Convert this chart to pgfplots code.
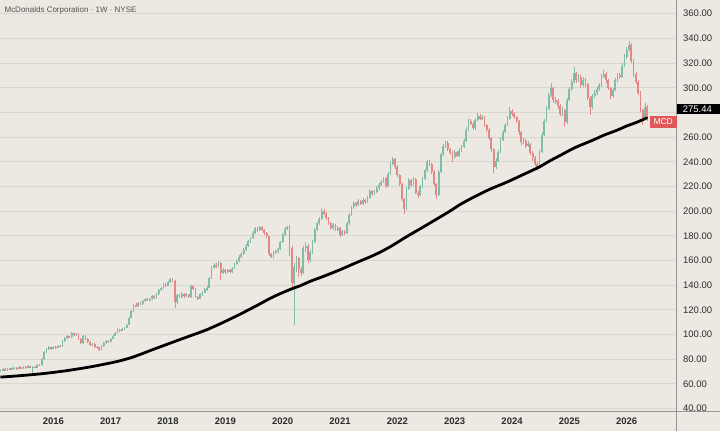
\documentclass[border=0pt]{standalone}
\usepackage{fontspec}
\setmainfont{Liberation Sans}
\usepackage{pgfplots}
\usepackage{pgfplotstable}
\pgfplotsset{compat=1.18}
\definecolor{bg}{RGB}{235,233,225}
\definecolor{gridc}{RGB}{218,215,207}
\definecolor{upc}{RGB}{128,188,168}
\definecolor{dnc}{RGB}{230,135,135}
\definecolor{axc}{RGB}{150,150,150}
\definecolor{lblc}{RGB}{45,45,45}
\definecolor{ttlc}{RGB}{80,80,80}
\definecolor{mcdred}{RGB}{222,88,90}

\pgfplotstableread{
t o h l c
2015.08 70.5 71.8 69.8 71.0
2015.12 71.0 72.8 70.4 72.0
2015.16 72.0 72.6 70.6 71.2
2015.20 71.2 73.2 70.8 72.5
2015.24 72.5 73.0 71.0 71.8
2015.28 71.8 73.4 71.2 72.6
2015.32 72.6 73.9 72.0 73.0
2015.36 73.0 73.6 71.5 72.2
2015.40 72.2 74.2 71.8 73.4
2015.44 73.4 74.0 72.0 72.8
2015.48 72.8 74.5 72.2 73.6
2015.52 73.6 74.3 72.3 73.0
2015.56 73.0 75.0 72.6 74.2
2015.60 74.2 74.8 72.8 73.5
2015.64 73.5 74.6 66.0 74.0
2015.68 74.0 74.8 72.5 73.2
2015.72 73.2 76.2 72.8 75.5
2015.76 75.5 76.4 74.2 75.0
2015.80 75.0 80.8 74.6 80.0
2015.84 80.0 86.4 79.5 85.5
2015.88 85.5 88.9 85.0 88.0
2015.92 88.0 90.3 87.2 89.5
2015.96 89.5 90.2 87.8 88.6
2016.00 88.6 91.0 88.0 90.2
2016.04 90.2 91.0 88.6 89.4
2016.08 89.4 91.8 88.8 91.0
2016.12 91.0 91.7 89.5 90.3
2016.16 90.3 95.3 90.0 94.5
2016.20 94.5 97.8 94.0 97.0
2016.24 97.0 99.4 96.3 98.5
2016.28 98.5 99.2 96.8 97.6
2016.32 97.6 101.9 97.0 101.0
2016.36 101.0 101.6 99.0 99.8
2016.40 99.8 101.4 99.0 100.5
2016.44 100.5 101.0 95.8 96.5
2016.48 96.5 97.0 92.2 93.0
2016.52 93.0 99.8 92.6 99.0
2016.56 99.0 99.5 95.2 96.0
2016.60 96.0 96.8 93.2 94.0
2016.64 94.0 94.6 90.8 91.5
2016.68 91.5 93.2 90.8 92.4
2016.72 92.4 92.9 89.3 90.0
2016.76 90.0 90.8 88.7 89.5
2016.80 89.5 90.0 87.0 87.8
2016.84 87.8 91.2 87.3 90.5
2016.88 90.5 93.8 90.0 93.0
2016.92 93.0 95.8 92.5 95.0
2016.96 95.0 95.7 93.5 94.2
2017.00 94.2 97.3 93.8 96.5
2017.04 96.5 99.8 96.0 99.0
2017.08 99.0 102.3 98.5 101.5
2017.12 101.5 104.9 101.0 104.0
2017.16 104.0 104.8 102.4 103.2
2017.20 103.2 105.4 102.7 104.5
2017.24 104.5 106.4 103.8 105.5
2017.28 105.5 108.9 105.0 108.0
2017.32 108.0 114.4 107.5 113.5
2017.36 113.5 120.0 113.0 119.0
2017.40 119.0 125.0 118.5 124.0
2017.44 124.0 125.2 122.0 123.0
2017.48 123.0 126.5 122.4 125.5
2017.52 125.5 126.4 123.7 124.6
2017.56 124.6 128.0 124.0 127.0
2017.60 127.0 130.0 126.3 129.0
2017.64 129.0 129.8 126.9 127.8
2017.68 127.8 129.6 127.0 128.5
2017.72 128.5 132.0 128.0 131.0
2017.76 131.0 131.8 128.6 129.5
2017.80 129.5 134.0 129.0 133.0
2017.84 133.0 137.0 132.4 136.0
2017.88 136.0 138.6 135.2 137.5
2017.92 137.5 141.5 137.0 140.5
2017.96 140.5 141.4 138.6 139.5
2018.00 139.5 143.5 139.0 142.5
2018.04 142.5 146.0 142.0 145.0
2018.08 145.0 146.2 142.5 143.5
2018.12 143.5 144.0 121.5 126.0
2018.16 126.0 133.2 125.0 132.0
2018.20 132.0 133.0 129.3 130.5
2018.24 130.5 134.2 129.8 133.0
2018.28 133.0 133.8 130.0 131.2
2018.32 131.2 133.6 130.4 132.5
2018.36 132.5 133.0 129.4 130.4
2018.40 130.4 140.2 130.0 139.0
2018.44 139.0 139.8 136.0 137.0
2018.48 137.0 137.5 129.5 130.5
2018.52 130.5 131.4 128.0 129.0
2018.56 129.0 133.5 128.5 132.5
2018.60 132.5 135.2 131.6 134.0
2018.64 134.0 137.5 133.4 136.5
2018.68 136.5 139.2 135.6 138.0
2018.72 138.0 147.0 137.5 146.0
2018.76 146.0 155.2 145.4 154.0
2018.80 154.0 157.8 153.0 156.5
2018.84 156.5 157.6 153.8 155.0
2018.88 155.0 159.2 154.4 158.0
2018.92 158.0 158.7 144.0 150.0
2018.96 150.0 153.8 149.0 152.5
2019.00 152.5 153.4 149.4 150.5
2019.04 150.5 153.2 149.6 152.0
2019.08 152.0 153.0 149.8 151.0
2019.12 151.0 154.6 150.2 153.5
2019.16 153.5 158.2 152.8 157.0
2019.20 157.0 160.6 156.2 159.5
2019.24 159.5 164.2 158.8 163.0
2019.28 163.0 166.8 162.0 165.5
2019.32 165.5 169.8 164.8 168.5
2019.36 168.5 173.2 167.6 172.0
2019.40 172.0 176.6 171.2 175.5
2019.44 175.5 179.3 174.4 178.0
2019.48 178.0 183.7 177.2 182.5
2019.52 182.5 187.2 181.5 186.0
2019.56 186.0 187.0 183.2 184.5
2019.60 184.5 188.3 183.6 187.0
2019.64 187.0 187.8 183.8 185.0
2019.68 185.0 185.8 180.8 182.0
2019.72 182.0 183.0 178.2 179.5
2019.76 179.5 180.0 163.5 165.0
2019.80 165.0 166.2 161.8 163.0
2019.84 163.0 167.6 162.4 166.5
2019.88 166.5 168.8 165.4 167.5
2019.92 167.5 170.2 166.4 169.0
2019.96 169.0 176.2 168.4 175.0
2020.00 175.0 182.2 174.4 181.0
2020.04 181.0 186.8 180.2 185.5
2020.08 185.5 188.2 184.4 187.0
2020.12 187.0 188.5 164.0 170.0
2020.16 170.0 172.0 138.0 142.0
2020.20 142.0 158.0 108.0 155.0
2020.24 155.0 163.5 151.0 162.0
2020.28 162.0 163.0 147.0 153.0
2020.32 153.0 155.0 147.5 150.0
2020.36 150.0 172.0 149.0 170.0
2020.40 170.0 175.0 167.0 172.0
2020.44 172.0 173.0 158.0 160.0
2020.48 160.0 168.5 158.5 167.0
2020.52 167.0 176.5 165.5 175.0
2020.56 175.0 186.5 174.0 185.0
2020.60 185.0 191.5 183.5 190.0
2020.64 190.0 195.5 188.8 194.0
2020.68 194.0 202.2 193.0 200.5
2020.72 200.5 202.0 196.5 198.0
2020.76 198.0 199.0 193.0 194.5
2020.80 194.5 195.5 188.5 190.0
2020.84 190.0 191.0 184.5 186.0
2020.88 186.0 190.0 185.0 188.5
2020.92 188.5 189.5 183.8 185.0
2020.96 185.0 188.0 183.5 186.5
2021.00 186.5 187.0 179.0 181.0
2021.04 181.0 185.0 180.0 183.5
2021.08 183.5 184.8 180.8 182.5
2021.12 182.5 191.4 181.8 190.0
2021.16 190.0 198.5 189.0 197.0
2021.20 197.0 204.5 196.0 203.0
2021.24 203.0 208.0 202.0 206.5
2021.28 206.5 207.8 203.5 205.0
2021.32 205.0 210.0 204.0 208.5
2021.36 208.5 209.4 204.6 206.0
2021.40 206.0 210.5 205.0 209.0
2021.44 209.0 210.0 206.0 207.5
2021.48 207.5 212.5 206.5 211.0
2021.52 211.0 218.0 210.0 216.5
2021.56 216.5 217.5 212.5 214.0
2021.60 214.0 217.0 212.8 215.5
2021.64 215.5 220.0 214.5 218.5
2021.68 218.5 222.5 217.5 221.0
2021.72 221.0 225.0 220.0 223.5
2021.76 223.5 228.0 222.5 226.5
2021.80 226.5 227.5 218.5 220.0
2021.84 220.0 231.5 219.5 230.0
2021.88 230.0 240.0 229.0 238.5
2021.92 238.5 243.8 237.0 242.0
2021.96 242.0 243.0 234.5 236.0
2022.00 236.0 237.0 227.5 229.0
2022.04 229.0 230.0 220.0 222.0
2022.08 222.0 223.0 208.0 210.0
2022.12 210.0 211.0 197.5 202.0
2022.16 202.0 219.5 201.0 218.0
2022.20 218.0 226.5 217.0 225.0
2022.24 225.0 226.0 219.5 221.0
2022.28 221.0 227.5 220.0 226.0
2022.32 226.0 227.0 213.5 215.0
2022.36 215.0 216.5 210.5 213.0
2022.40 213.0 221.5 212.0 220.0
2022.44 220.0 227.5 219.0 226.0
2022.48 226.0 234.5 225.0 233.0
2022.52 233.0 241.5 232.0 240.0
2022.56 240.0 241.5 236.5 238.0
2022.60 238.0 239.0 230.5 232.0
2022.64 232.0 233.0 220.5 222.0
2022.68 222.0 223.0 210.0 213.0
2022.72 213.0 233.5 212.0 232.0
2022.76 232.0 247.5 231.0 246.0
2022.80 246.0 254.8 245.0 253.0
2022.84 253.0 257.2 251.5 255.5
2022.88 255.5 256.5 248.5 250.0
2022.92 250.0 251.5 245.5 247.0
2022.96 247.0 248.5 240.0 244.0
2023.00 244.0 249.5 242.5 248.0
2023.04 248.0 249.0 243.5 245.0
2023.08 245.0 250.8 244.0 249.0
2023.12 249.0 253.8 247.8 252.0
2023.16 252.0 258.8 251.0 257.0
2023.20 257.0 267.8 256.0 266.0
2023.24 266.0 274.8 265.0 273.0
2023.28 273.0 275.0 269.5 271.0
2023.32 271.0 272.0 265.5 267.0
2023.36 267.0 275.8 266.0 274.0
2023.40 274.0 279.2 273.0 277.5
2023.44 277.5 278.5 273.5 275.0
2023.48 275.0 277.8 273.8 276.0
2023.52 276.0 277.0 268.5 270.0
2023.56 270.0 271.0 264.5 266.0
2023.60 266.0 267.0 257.5 259.0
2023.64 259.0 260.0 248.0 250.0
2023.68 250.0 251.0 230.7 236.0
2023.72 236.0 243.0 234.5 241.0
2023.76 241.0 249.8 240.0 248.0
2023.80 248.0 259.8 247.0 258.0
2023.84 258.0 265.8 257.0 264.0
2023.88 264.0 271.8 263.0 270.0
2023.92 270.0 276.8 269.0 275.0
2023.96 275.0 284.0 274.0 281.0
2024.00 281.0 282.5 277.0 279.0
2024.04 279.0 280.0 274.5 276.0
2024.08 276.0 277.5 271.5 273.0
2024.12 273.0 274.0 262.0 264.0
2024.16 264.0 265.0 254.0 256.0
2024.20 256.0 259.0 254.5 257.0
2024.24 257.0 258.5 251.5 253.0
2024.28 253.0 256.5 251.8 254.5
2024.32 254.5 255.5 245.5 247.0
2024.36 247.0 248.5 241.0 243.0
2024.40 243.0 244.5 236.5 238.0
2024.44 238.0 240.0 233.0 236.0
2024.48 236.0 249.8 235.0 248.0
2024.52 248.0 263.8 247.0 262.0
2024.56 262.0 275.0 261.0 273.0
2024.60 273.0 285.0 272.0 283.0
2024.64 283.0 296.0 282.0 294.0
2024.68 294.0 304.0 292.5 300.0
2024.72 300.0 301.0 288.0 290.0
2024.76 290.0 292.5 287.0 289.0
2024.80 289.0 290.5 283.0 285.0
2024.84 285.0 286.5 277.0 279.0
2024.88 279.0 284.0 277.5 282.0
2024.92 282.0 283.0 268.0 272.0
2024.96 272.0 292.0 271.0 290.0
2025.00 290.0 301.0 289.0 299.0
2025.04 299.0 307.0 297.5 305.0
2025.08 305.0 316.5 304.0 312.0
2025.12 312.0 313.0 304.0 306.0
2025.16 306.0 311.0 304.5 309.0
2025.20 309.0 310.0 300.0 302.0
2025.24 302.0 308.5 300.5 306.5
2025.28 306.5 308.0 301.0 303.0
2025.32 303.0 304.0 290.0 292.0
2025.36 292.0 293.0 278.0 284.0
2025.40 284.0 295.0 283.0 293.0
2025.44 293.0 298.0 291.5 296.0
2025.48 296.0 301.0 294.5 299.0
2025.52 299.0 304.0 297.5 302.0
2025.56 302.0 311.0 301.0 309.0
2025.60 309.0 314.0 307.5 311.5
2025.64 311.5 312.5 304.0 306.0
2025.68 306.0 307.0 298.0 300.0
2025.72 300.0 301.0 291.0 293.0
2025.76 293.0 300.0 292.0 298.0
2025.80 298.0 308.0 297.0 306.0
2025.84 306.0 312.0 304.5 310.0
2025.88 310.0 312.0 307.0 309.0
2025.92 309.0 320.0 308.0 318.0
2025.96 318.0 327.0 317.0 325.0
2026.00 325.0 333.0 323.5 331.0
2026.04 331.0 337.6 329.5 335.0
2026.08 335.0 336.0 320.0 322.0
2026.12 322.0 323.0 309.0 311.0
2026.16 311.0 312.5 303.0 305.0
2026.20 305.0 306.0 294.0 296.0
2026.24 296.0 297.0 280.0 282.0
2026.28 282.0 283.0 270.0 275.0
2026.32 275.0 288.0 273.5 284.0
2026.36 284.0 286.0 273.0 275.44
}\candles

\pgfplotstableread{
t v
2015.077 65.5
2015.300 66.2
2015.512 67.0
2015.750 68.0
2015.948 69.0
2016.200 70.5
2016.383 71.8
2016.600 73.4
2016.819 75.3
2017.100 78.0
2017.341 81.0
2017.500 83.6
2017.690 87.0
2017.950 91.5
2018.213 96.0
2018.450 100.0
2018.683 104.0
2018.970 110.0
2019.258 116.5
2019.550 123.5
2019.833 130.5
2020.129 136.5
2020.303 139.5
2020.500 143.5
2020.704 147.0
2021.000 152.5
2021.296 158.5
2021.600 164.5
2021.871 171.0
2022.150 179.0
2022.446 187.0
2022.700 194.0
2022.916 200.0
2023.100 205.5
2023.317 211.0
2023.600 217.5
2023.909 223.5
2024.258 231.0
2024.484 236.0
2024.650 240.5
2024.833 245.0
2025.100 251.5
2025.408 257.5
2025.600 261.5
2025.826 265.5
2026.000 269.0
2026.174 272.0
2026.348 275.5
}\mavg

\begin{document}
\begin{tikzpicture}
\fill[bg] (0,-19.3pt) rectangle (720pt,411.7pt);
\begin{axis}[
  at={(0,0)}, anchor=south west,
  scale only axis, width=677pt, height=411.7pt,
  xmin=2015.077, xmax=2026.871, ymin=37.5, ymax=370.8,
  axis line style={draw=none},
  major tick length=0pt,
  xtick={2016,2017,2018,2019,2020,2021,2022,2023,2024,2025,2026},
  xticklabels={2016,2017,2018,2019,2020,2021,2022,2023,2024,2025,2026},
  x tick label style={font=\fontsize{9.5}{10}\selectfont\bfseries, text=lblc, anchor=center, yshift=-9.5pt},
  ytick={40,60,80,100,120,140,160,180,200,220,240,260,280,300,320,340,360},
  yticklabels={40.00,60.00,80.00,100.00,120.00,140.00,160.00,180.00,200.00,220.00,240.00,260.00,{},300.00,320.00,340.00,360.00},
  yticklabel pos=right,
  y tick label style={font=\fontsize{9.5}{10}\selectfont, text=lblc, anchor=west, xshift=3pt},
  ymajorgrids, grid style={gridc, line width=0.8pt},
]
% wicks
\addplot[draw=none, forget plot, restrict expr to domain={\thisrow{c}-\thisrow{o}}{0:1000},
  error bars/.cd, y dir=both, y explicit, error mark=none,
  error bar style={draw=upc, line width=0.7pt}]
  table[x=t, y expr={(\thisrow{h}+\thisrow{l})/2}, y error expr={(\thisrow{h}-\thisrow{l})/2}] \candles;
\addplot[draw=none, forget plot, restrict expr to domain={\thisrow{c}-\thisrow{o}}{-1000:-0.0001},
  error bars/.cd, y dir=both, y explicit, error mark=none,
  error bar style={draw=dnc, line width=0.7pt}]
  table[x=t, y expr={(\thisrow{h}+\thisrow{l})/2}, y error expr={(\thisrow{h}-\thisrow{l})/2}] \candles;
% bodies
\addplot[draw=none, forget plot, restrict expr to domain={\thisrow{c}-\thisrow{o}}{0:1000},
  error bars/.cd, y dir=both, y explicit, error mark=none,
  error bar style={draw=upc, line width=1.8pt}]
  table[x=t, y expr={(\thisrow{o}+\thisrow{c})/2}, y error expr={abs(\thisrow{c}-\thisrow{o})/2}] \candles;
\addplot[draw=none, forget plot, restrict expr to domain={\thisrow{c}-\thisrow{o}}{-1000:-0.0001},
  error bars/.cd, y dir=both, y explicit, error mark=none,
  error bar style={draw=dnc, line width=1.8pt}]
  table[x=t, y expr={(\thisrow{o}+\thisrow{c})/2}, y error expr={abs(\thisrow{c}-\thisrow{o})/2}] \candles;
% moving average
\addplot[black, line width=2.8pt, line cap=round, line join=round, smooth, tension=0.5, mark=none] table[x=t, y=v] \mavg;
\end{axis}
\fill[bg] (677pt,-19.3pt) rectangle (720pt,0pt);
\draw[axc, line width=0.8pt] (0,0) -- (720pt,0);
\draw[axc, line width=0.8pt] (677pt,-19.3pt) -- (677pt,411.7pt);
\node[anchor=west, inner sep=0pt, font=\fontsize{8}{9}\selectfont, text=ttlc] at (4pt,401.5pt) {McDonalds Corporation · 1W · NYSE};
\fill[black] (677.4pt,297.7pt) rectangle (720pt,307.7pt);
\node[anchor=west, inner sep=0pt, font=\fontsize{9.5}{10}\selectfont, text=white] at (683pt,302.7pt) {275.44};
\fill[mcdred] (650pt,284.4pt) rectangle (677pt,295.7pt);
\node[inner sep=0pt, font=\fontsize{8.5}{9}\selectfont, text=white] at (663.5pt,290pt) {MCD};
\end{tikzpicture}
\end{document}
